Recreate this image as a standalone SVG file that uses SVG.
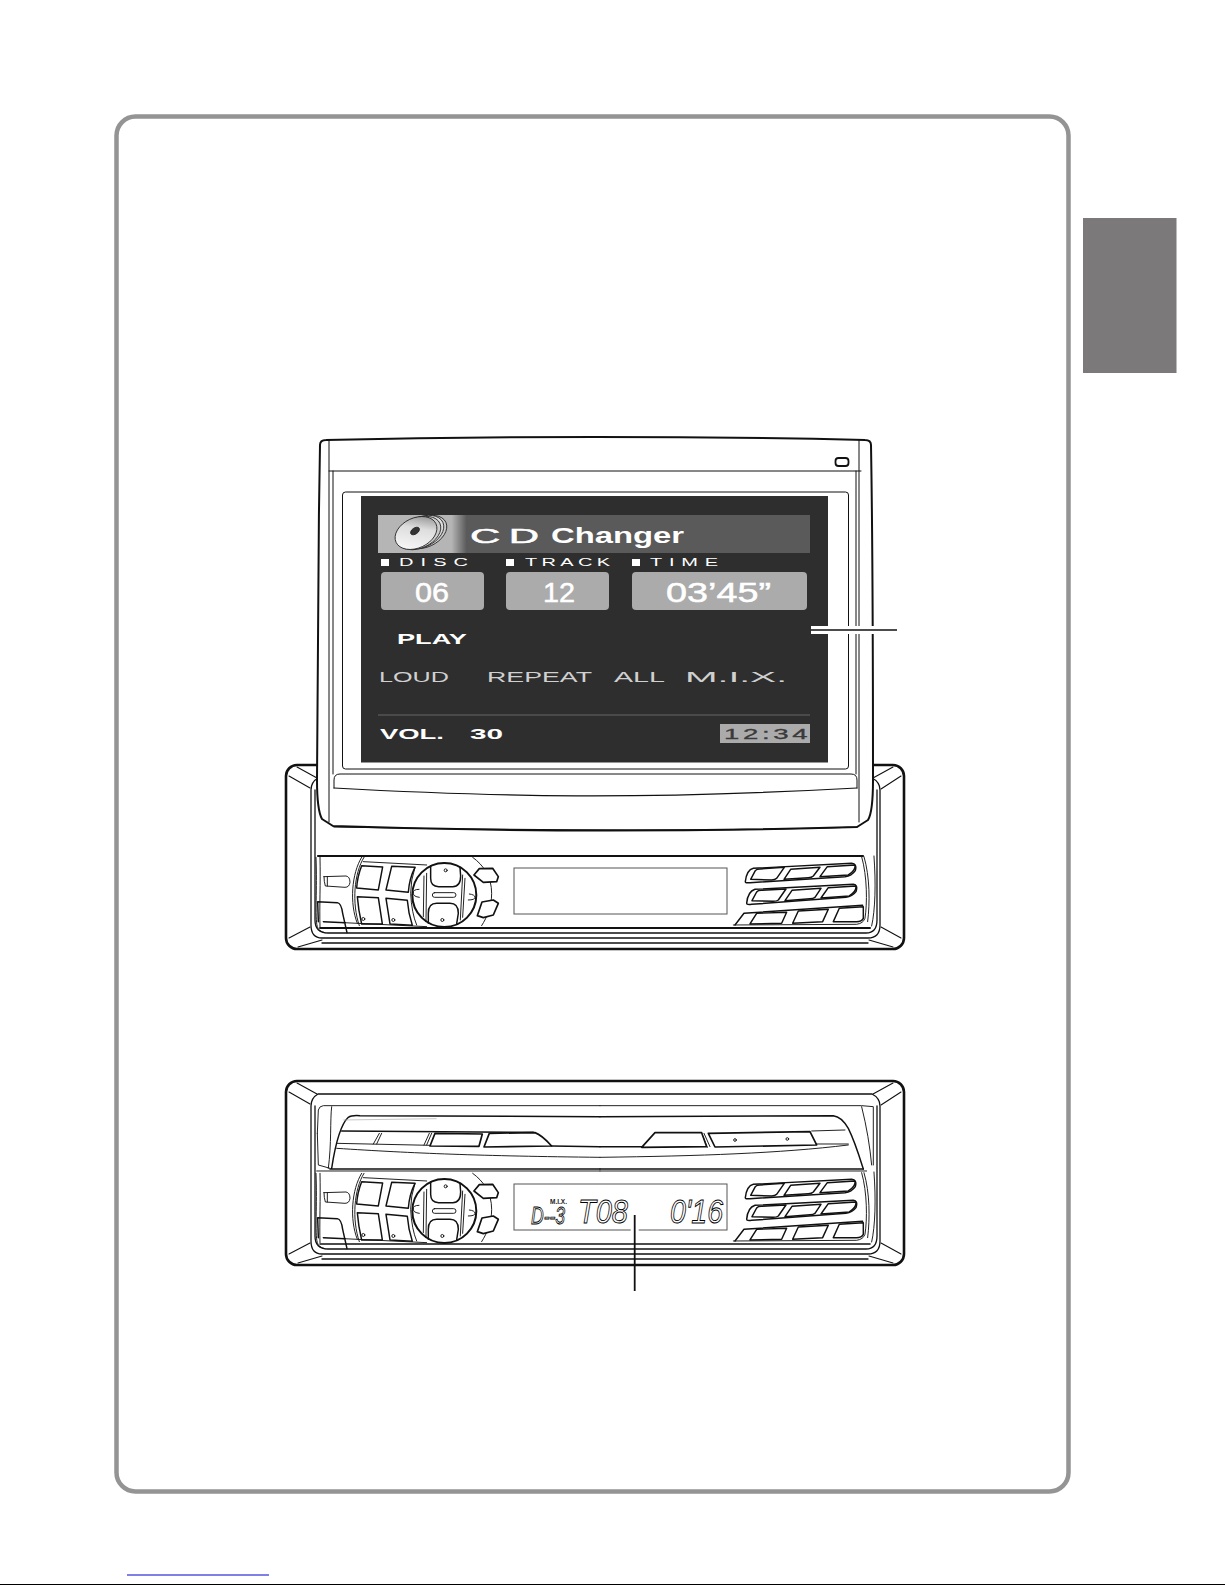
<svg xmlns="http://www.w3.org/2000/svg" width="1225" height="1585" viewBox="0 0 1225 1585">
<style>
.l{fill:none;stroke:#111;stroke-linecap:round;stroke-linejoin:round}
.t{stroke-width:2.8}.m{stroke-width:4.4}.k{stroke-width:6}
.w{fill:#fff;stroke:#111;stroke-linejoin:round}
.s{font-family:"Liberation Sans",Arial,sans-serif;fill:#fff}
.g{fill:#d0d0d0}
.lcd{font-family:"Liberation Sans",Arial,sans-serif;fill:#fff;stroke:#000;stroke-width:.9;font-style:italic}
</style>
<defs>
<linearGradient id="bn" x1="0" x2="1"><stop offset="0" stop-color="#b5b5b5"/><stop offset=".17" stop-color="#b5b5b5"/><stop offset=".205" stop-color="#5a5a5a"/><stop offset="1" stop-color="#5a5a5a"/></linearGradient>
<linearGradient id="cd" x1="0" y1="1" x2="1" y2="0"><stop offset="0" stop-color="#fff"/><stop offset=".6" stop-color="#ddd"/><stop offset="1" stop-color="#777"/></linearGradient>
<g id="left-ctl">
<path class="l t" d="M108,322C112,420 104,500 112,530Q116,545 135,548"/>
<path class="l t" d="M120,322C122,400 118,470 120,530"/>
<path class="l t" d="M132,380L198,378Q210,380 210,397Q208,412 195,412L136,408Q132,395 132,380ZM142,380L142,408"/>
<path class="l m" d="M113,455L172,458Q184,460 188,490L201,548M113,455L115,515M130,515L196,518"/>
<path class="l t" d="M252,322C222,370 215,460 238,527M245,322C215,370 208,460 232,520"/>
<path class="l t" d="M250,335L440,345M190,518L440,530"/>
<path class="l m" d="M245,347L308,351L295,420L230,414Q232,380 245,347ZM335,349L405,352Q388,385 385,427L318,420ZM232,440L295,443L307,522L245,522Q235,480 232,440ZM318,445L382,451Q385,490 397,526L330,522Z"/>
<path class="l t" d="M405,352Q392,390 392,430Q395,490 410,525"/>
<path class="l t" d="M578,322C610,345 635,380 635,430C635,470 622,500 605,527"/>
<circle cx="493" cy="435" r="96" fill="#fff" stroke="#111" stroke-width="6"/>
<path class="l t" d="M432,378L430,500M440,370L438,515M555,385L548,502M548,375L541,510"/>
<path class="l m" d="M452,348L452,385Q452,410 476,410L518,410Q542,410 542,378L540,352M445,520L445,490Q445,460 470,460L510,460Q535,460 535,490L530,522"/>
<rect class="l t" x="457" y="428" width="71" height="14" rx="7"/>
<path class="l t" d="M417,418Q398,418 400,430Q400,440 418,442M568,432Q585,434 585,442Q585,450 565,450"/>
<circle class="l t" cx="497" cy="361" r="4.5"/><circle class="l t" cx="487" cy="510" r="4.5"/><circle class="l t" cx="250" cy="507" r="4.5"/><circle class="l t" cx="340" cy="510" r="4.5"/>
<path class="w" stroke-width="5" d="M582,375L598,356L638,355L655,380L650,395L610,397Z"/>
<path class="w" stroke-width="5" d="M592,497L606,456L640,450L655,460L640,495L610,503Z"/>
</g>
<g id="right-ctl">
<path class="l m" d="M436,395Q440,360 460,355L755,340Q772,342 766,362Q755,378 735,380L450,398Q436,400 436,395Z"/>
<path class="l m" d="M452,388L466,362Q470,357 480,357L553,352L530,385Q525,390 515,390ZM552,388L572,358L660,352L640,378Q635,383 625,383ZM660,380L682,350L765,345Q768,360 745,375Z"/>
<path class="l m" d="M440,460Q443,425 465,418L760,403Q775,405 768,425Q757,440 738,442L455,463Q440,465 440,460Z"/>
<path class="l m" d="M456,452L470,426Q474,421 484,421L558,417L535,450Q530,454 520,454ZM555,452L576,421L663,415L645,442Q640,446 630,446ZM663,444L685,413L768,408Q770,424 748,438Z"/>
<path class="l m" d="M405,525L432,490L788,466"/>
<path class="l m" d="M450,522L470,490L560,487L545,520ZM578,520L595,483L685,478L668,515ZM700,515L718,475L790,470L790,505Q785,515 770,515Z"/>
<path class="l t" d="M785,320C802,380 802,460 795,505Q790,520 770,523L400,525"/>
<path class="l t" d="M792,320C810,380 810,460 803,515M822,318C828,400 826,480 815,528"/>
</g>
<g id="shell">
<rect class="w" x="286" y="765" width="618" height="184" rx="11" stroke-width="2.6"/>
<path class="l" stroke-width="1.100" d="M289,776L310,788M297,767L317,778M289,938L310,927M298,947L322,940M901,776L881,789M893,767L873,778M901,938L881,927M893,947L869,940"/>
<path class="l" stroke-width="1.300" d="M311,925V790Q311,782 318,778L872,778Q880,782 880,790V925Q880,938 868,938L322,938Q311,938 311,925M315,790V920Q315,933 328,933L866,933Q877,933 877,920V790"/>
<path class="l" stroke-width="1.300" d="M322,943H868"/>
</g>
</defs>

<g id="page">
<rect x="116.500" y="116.500" width="952" height="1375" rx="19" fill="#fff" stroke="#949494" stroke-width="4.500"/>
<rect x="1083" y="218" width="93.500" height="155" fill="#7b7979"/>
<path d="M127,1575H269" stroke="#0000d0" stroke-width="1"/>
<path d="M0,1584.500H1225" stroke="#000" stroke-width="1"/>
</g>

<g id="unit-extended">
<use href="#shell"/>
<path class="l" stroke-width="2.200" d="M318,856H863"/>
<path class="l" stroke-width="2" d="M320,928H870"/>
<g transform="translate(280 750) scale(.3333)"><use href="#left-ctl"/></g>
<g transform="translate(600 750) scale(.3333)"><use href="#right-ctl"/></g>
<rect x="514" y="868" width="213" height="46" fill="#fff" stroke="#555" stroke-width="1"/>
</g>

<g id="monitor">
<path class="w" stroke-width="2" d="M320,445Q320,440 326,440C500,436 690,436 865,440Q871,440 871,445C873,560 873,680 873,780Q873,812 868,820L857,827C680,832 510,832 333,826L322,819C317,810 317,790 317,780C317,680 318,560 320,445Z"/>
<path class="l" stroke-width="1" d="M329,440V822M333,471V774M859,440V822M856,471V774M329,471H861"/>
<rect class="w" stroke-width="1" x="342.500" y="492" width="506" height="277" rx="3"/>
<path class="l" stroke-width="1" d="M334,788V780Q334,774 340,774H851Q857,774 857,780V788"/>
<path class="l" stroke-width="1.200" d="M334,788C500,797 640,800 857,788M334,827C500,830 700,832 857,827"/>
<rect x="835.500" y="458" width="13" height="8" rx="3" fill="#fff" stroke="#111" stroke-width="1.800"/>
</g>

<g id="screen">
<rect x="361" y="496" width="467" height="266.500" fill="#2e2e2e"/>
<rect x="378" y="515" width="432" height="38" fill="url(#bn)"/>
<g id="cd-icon" stroke="#222" stroke-width=".8">
<ellipse cx="425" cy="532" rx="23" ry="15" transform="rotate(-25 425 532)" fill="#ccc"/>
<ellipse cx="422" cy="532" rx="23" ry="15" transform="rotate(-25 422 532)" fill="#ddd"/>
<ellipse cx="419" cy="533" rx="23" ry="15" transform="rotate(-25 419 533)" fill="#ccc"/>
<ellipse cx="416" cy="533" rx="22" ry="15" transform="rotate(-25 416 533)" fill="url(#cd)"/>
<ellipse cx="415" cy="531" rx="5" ry="3" transform="rotate(-35 415 531)" fill="#333"/>
</g>
<text class="s" transform="translate(470 542.500) scale(2 1)" font-size="21" stroke="#fff" stroke-width=".5" textLength="34.500" lengthAdjust="spacing">CD</text>
<text class="s" x="551" y="542.500" font-size="22" font-weight="700" textLength="133" lengthAdjust="spacingAndGlyphs">Changer</text>
<g fill="#fff"><rect x="381" y="559" width="8" height="7"/><rect x="506" y="559" width="8" height="7"/><rect x="632" y="559" width="8" height="7"/></g>
<text class="s" transform="translate(399 566) scale(2 1)" font-size="10" textLength="34.500" lengthAdjust="spacing">DISC</text>
<text class="s" transform="translate(525 566) scale(2 1)" font-size="10" textLength="42.500" lengthAdjust="spacing">TRACK</text>
<text class="s" transform="translate(650 566) scale(2 1)" font-size="10" textLength="34" lengthAdjust="spacing">TIME</text>
<g fill="#ababab"><rect x="381" y="572" width="103" height="38" rx="4"/><rect x="506" y="572" width="103" height="38" rx="4"/><rect x="632" y="572" width="175" height="38" rx="4"/></g>
<text class="s" x="415" y="602" font-size="27" stroke="#fff" stroke-width=".5" textLength="34" lengthAdjust="spacingAndGlyphs">06</text>
<text class="s" x="543" y="602" font-size="27" stroke="#fff" stroke-width=".5" textLength="32" lengthAdjust="spacingAndGlyphs">12</text>
<text class="s" x="666" y="602" font-size="27" stroke="#fff" stroke-width=".5" textLength="105" lengthAdjust="spacingAndGlyphs">03’45”</text>
<text class="s" x="397" y="644" font-size="15" font-weight="700" textLength="70" lengthAdjust="spacingAndGlyphs">PLAY</text>
<text class="s g" x="379" y="682" font-size="15" textLength="70" lengthAdjust="spacingAndGlyphs">LOUD</text>
<text class="s g" x="487" y="682" font-size="15" textLength="105" lengthAdjust="spacingAndGlyphs">REPEAT</text>
<text class="s g" x="614" y="682" font-size="15" textLength="51" lengthAdjust="spacingAndGlyphs">ALL</text>
<text class="s g" x="685" y="682" font-size="15" textLength="102" lengthAdjust="spacingAndGlyphs">M.I.X.</text>
<path d="M378,715H810" stroke="#666" stroke-width="1"/>
<text class="s" x="380" y="739" font-size="15" font-weight="700" textLength="64" lengthAdjust="spacingAndGlyphs">VOL.</text>
<text class="s" x="470" y="739" font-size="15" font-weight="700" textLength="33" lengthAdjust="spacingAndGlyphs">30</text>
<rect x="720" y="724" width="90" height="19" fill="#ababab"/>
<text transform="translate(724 739) scale(1.900 1)" font-size="14.500" font-family="Liberation Sans,Arial,sans-serif" fill="#3a3a3a" stroke="#3a3a3a" stroke-width=".3" textLength="44" lengthAdjust="spacing">12:34</text>
</g>

<g id="unit-closed">
<g transform="translate(0 316)"><use href="#shell"/></g>
<g transform="translate(280 1070) scale(.3333)">
<path class="l t" d="M112,190L115,120Q118,108 130,107L960,107M112,190L115,285L150,295M145,295C155,220 150,150 155,110"/>
<path class="l m" d="M155,295C165,230 180,165 205,142Q215,135 240,137L960,140"/>
<path d="M190,150L470,146" fill="none" stroke="#aaa" stroke-width="2"/>
<path class="l m" d="M185,183L760,187"/>
<path class="l t" d="M170,220L450,226M170,235C400,250 600,258 960,262M280,222L298,190M290,222L305,190M432,225L448,190M440,225L455,190"/>
<path class="w" stroke-width="5" d="M450,228L465,190L607,192L597,229Z"/>
<path class="w" stroke-width="5" d="M612,231L628,190L765,188Q785,195 815,228Z"/>
<path class="l m" d="M815,228L960,230"/>
<path class="l t" d="M110,303L960,303"/>
<path class="l m" d="M150,297L960,297"/>
</g>
<g transform="translate(600 1070) scale(.3333)">
<path class="l t" d="M0,107L785,107L820,110L820,285M785,110C800,170 810,230 815,285"/>
<path class="l m" d="M0,140L700,137Q725,140 745,175C765,215 780,265 790,297"/>
<path class="l m" d="M0,230L125,230"/>
<path class="l t" d="M0,262C300,258 540,250 745,225M635,183L735,180M312,190L330,230M305,190L322,232"/>
<path class="w" stroke-width="5" d="M125,232L165,188L305,188L320,230Z"/>
<path class="w" stroke-width="5" d="M325,190L630,185L650,225L345,231Z"/>
<circle class="l t" cx="405" cy="210" r="4"/><circle class="l t" cx="562" cy="207" r="4"/>
<path class="l t" d="M650,222L745,222"/>
<path class="l m" d="M0,297L790,297"/>
<path class="l t" d="M0,303L800,303"/>
</g>
<path class="l" stroke-width="1.600" d="M320,1244H870"/>
<g transform="translate(280 1066) scale(.3333)"><use href="#left-ctl"/></g>
<g transform="translate(600 1066) scale(.3333)"><use href="#right-ctl"/></g>
<rect x="514" y="1184" width="213" height="46" fill="#fff" stroke="#555" stroke-width="1"/>
<text x="550" y="1204" font-size="7" font-weight="700" font-family="Liberation Sans,Arial,sans-serif" fill="#222" textLength="17" lengthAdjust="spacingAndGlyphs">M.I.X.</text>
<text class="lcd" x="531" y="1224" font-size="24" textLength="34" lengthAdjust="spacingAndGlyphs">D--3</text>
<text class="lcd" x="578" y="1223" font-size="34" textLength="50" lengthAdjust="spacingAndGlyphs">T08</text>
<text class="lcd" x="670" y="1223" font-size="34" textLength="53" lengthAdjust="spacingAndGlyphs">0'16</text>
</g>

<g id="connectors">
<path d="M811,630H897" stroke="#fff" stroke-width="8"/>
<path d="M811,630H897" stroke="#111" stroke-width="1.500"/>
<path d="M634.700,1215V1234" stroke="#fff" stroke-width="8"/>
<path d="M634.700,1215V1291" stroke="#111" stroke-width="1.800"/>
</g>
</svg>
